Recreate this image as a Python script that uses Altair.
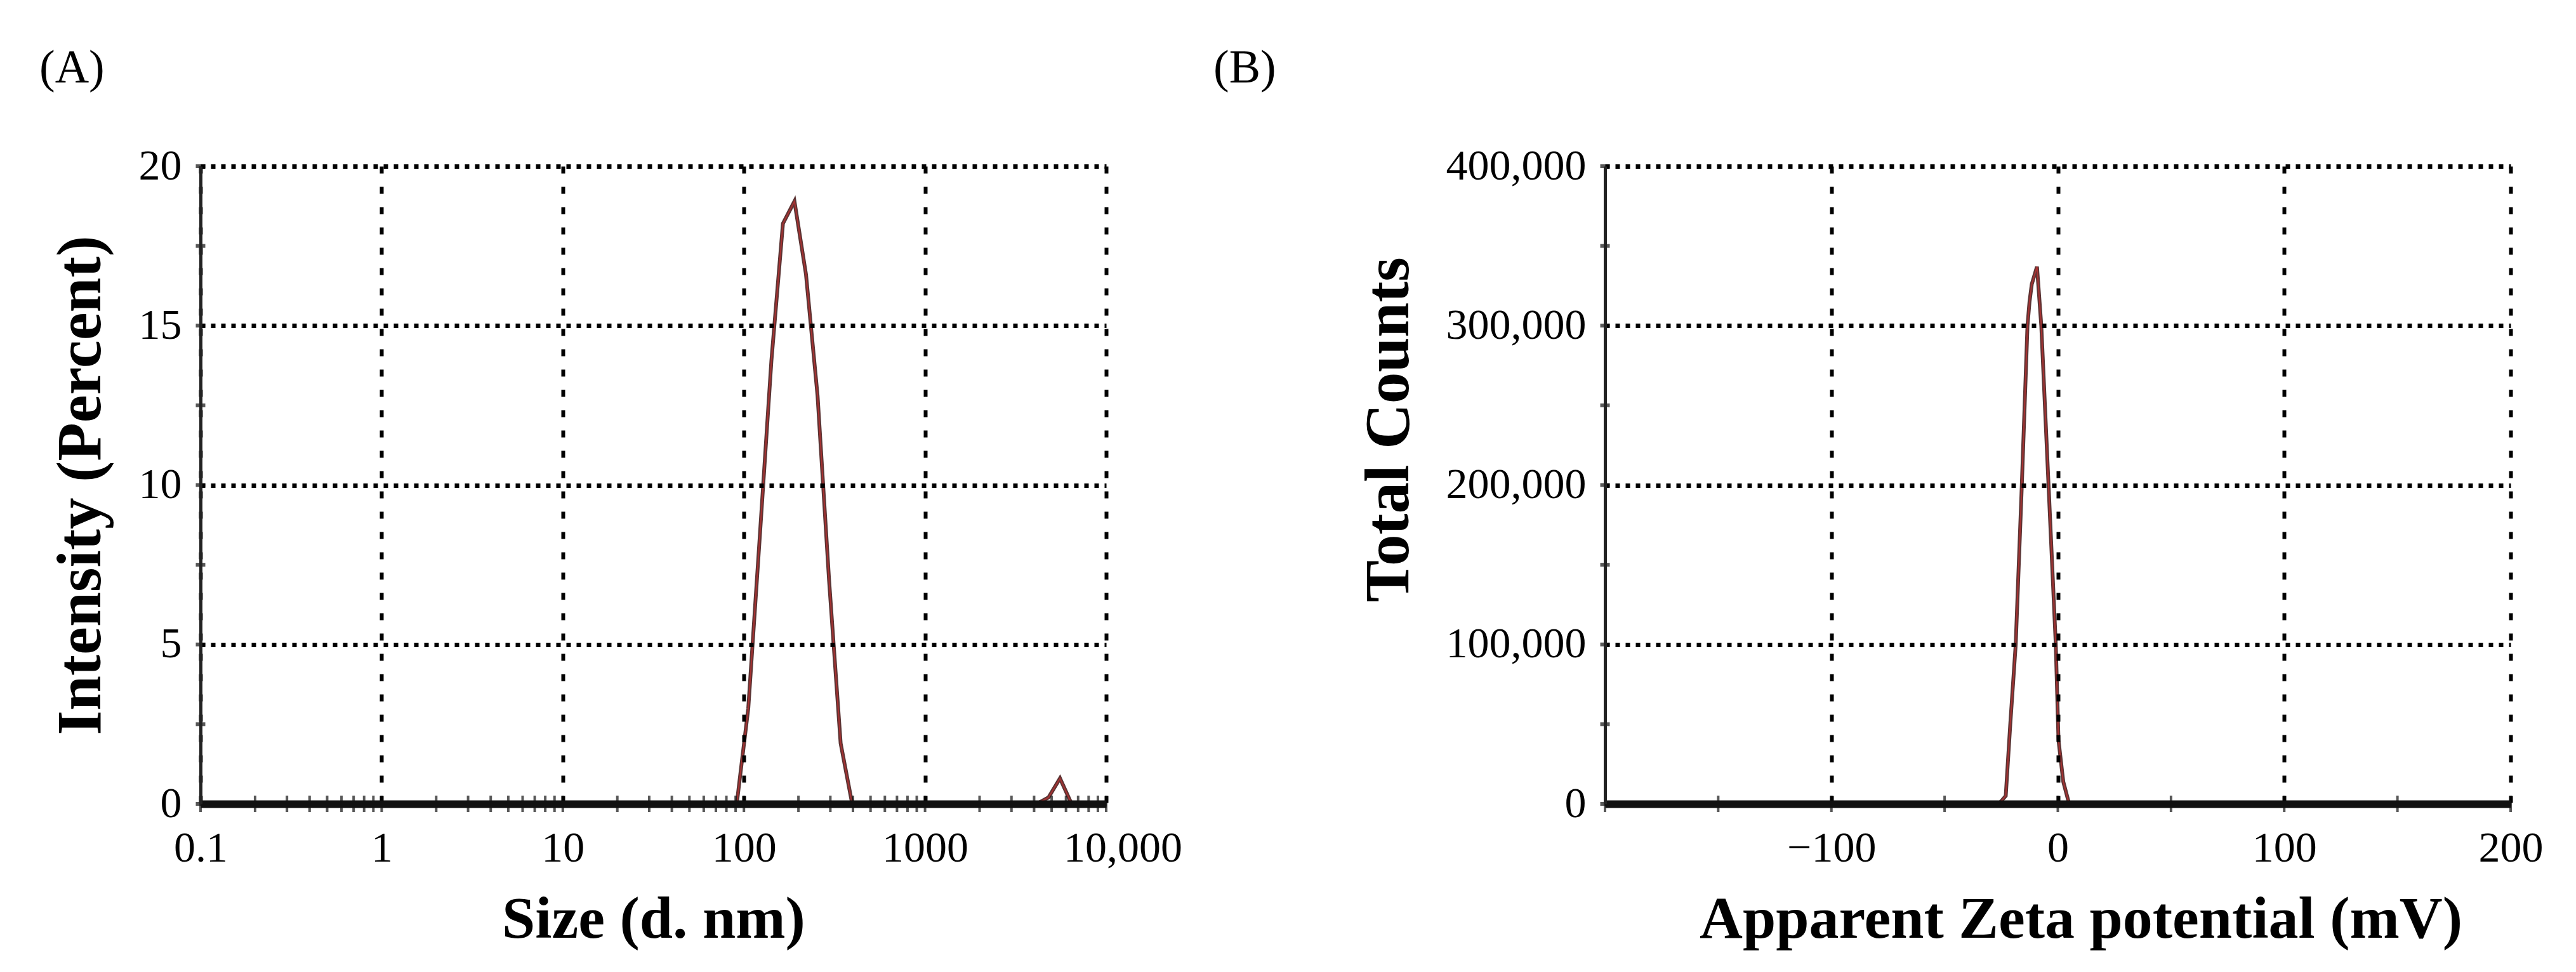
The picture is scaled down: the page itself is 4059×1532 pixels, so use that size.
import altair as alt
import pandas as pd

FONT = "Liberation Serif"

# ---------------- Panel A: size distribution ----------------
size_nm = [0.4, 91.28, 105.7, 122.4, 141.8, 164.2, 190.1, 220.2, 255.0, 295.3,
           342.0, 396.1, 4145, 4801, 5560, 6439, 10000]
intensity = [0, 0, 3.0, 8.4, 13.9, 18.2, 18.9, 16.6, 12.8, 7.0,
             1.9, 0, 0, 0.2, 0.8, 0, 0]

size_major = [0.1, 1, 10, 100, 1000, 10000]
size_minor = [0.2, 0.3, 0.4, 0.5, 0.6, 0.7, 0.8, 0.9,
              2, 3, 4, 5, 6, 7, 8, 9,
              20, 30, 40, 50, 60, 70, 80, 90,
              200, 300, 400, 500, 600, 700, 800, 900,
              2000, 3000, 4000, 5000, 6000, 7000, 8000, 9000]
intensity_major = [0, 5, 10, 15, 20]
intensity_minor = [2.5, 7.5, 12.5, 17.5]

# ---------------- Panel B: zeta potential ----------------
zeta_mv = [-150, -26, -23, -21, -18.6, -15.9, -13.4, -12.5, -11.5, -9.2,
           -7.3, -4.1, -0.9, 0.3, 2.4, 5.0, 150]
total_counts = [0, 0, 5000, 50000, 100000, 200000, 300000, 315000, 326000, 337000,
                300000, 200000, 100000, 40000, 14000, 0, 0]

zeta_major = [-100, 0, 100, 200]
zeta_ticks = [-200, -150, -100, -50, 0, 50, 100, 150, 200]
counts_major = [0, 100000, 200000, 300000, 400000]
counts_ticks = [0, 50000, 100000, 150000, 200000, 250000, 300000, 350000, 400000]

W, H = 1427, 1005
LINE_DARK = "#3e1010"
LINE_RED = "#a83232"


def panel(xs, ys, xscale, yscale, xaxis, yaxis, xtick_vals, ytick_vals, xmin, label, label_dx):
    line_df = pd.DataFrame({"x": xs, "y": ys})
    xt_df = pd.DataFrame({"x": xtick_vals, "y": [0] * len(xtick_vals)})
    yt_df = pd.DataFrame({"x": [xmin] * len(ytick_vals), "y": ytick_vals})

    X = alt.X("x:Q", scale=xscale, axis=xaxis)
    Y = alt.Y("y:Q", scale=yscale, axis=yaxis)

    outline = alt.Chart(line_df).mark_line(color=LINE_DARK, strokeWidth=6, opacity=0.85).encode(x=X, y=Y)
    core = alt.Chart(line_df).mark_line(color=LINE_RED, strokeWidth=2).encode(x=X, y=Y)
    xt = alt.Chart(xt_df).mark_tick(orient="vertical", size=26, thickness=4, color="#111").encode(x=X, y=Y)
    yt = alt.Chart(yt_df).mark_tick(orient="horizontal", size=15, thickness=6, color="#111").encode(x=X, y=Y)

    return alt.layer(outline, core, xt, yt).properties(
        width=W, height=H,
        title=alt.TitleParams(label, anchor="start", frame="group", dx=label_dx, offset=82,
                              font=FONT, fontSize=74, fontWeight="normal", color="black"),
    )


def xaxis_common(**kw):
    base = dict(grid=True, gridColor="black", gridDash=[11, 21], gridWidth=6, gridOpacity=1,
                ticks=False, domainColor="#111", domainWidth=12, labelFont=FONT, labelFontSize=68,
                labelColor="black", labelPadding=36, labelFlush=False, labelOverlap=False,
                labelLimit=0,
                titleFont=FONT, titleFontSize=94, titleFontWeight="bold", titleColor="black",
                titlePadding=32, zindex=1)
    base.update(kw)
    return alt.Axis(**base)


def yaxis_common(**kw):
    base = dict(grid=True, gridColor="black", gridDash=[7, 9], gridWidth=7, gridOpacity=1,
                ticks=False, domainColor="#222", domainWidth=5, labelFont=FONT, labelFontSize=68,
                labelColor="black", labelPadding=30, labelOverlap=False, labelLimit=0,
                titleFont=FONT, titleFontSize=99, titleFontWeight="bold", titleColor="black",
                zindex=1)
    base.update(kw)
    return alt.Axis(**base)


chartA = panel(
    size_nm, intensity,
    alt.Scale(type="log", domain=[0.1, 10000], nice=False),
    alt.Scale(domain=[0, 20], nice=False),
    xaxis_common(values=size_major, format="~g", title="Size (d. nm)",
                 labelExpr="datum.value >= 10000 ? format(datum.value, ',') : datum.label",
                 labelOffset={"condition": {"test": "datum.value >= 10000", "value": 26}, "value": 0}),
    yaxis_common(values=intensity_major, title="Intensity (Percent)", titlePadding=40),
    size_major + size_minor, intensity_major + intensity_minor, 0.1, "(A)", -254,
)

chartB = panel(
    zeta_mv, total_counts,
    alt.Scale(domain=[-200, 200], nice=False),
    alt.Scale(domain=[0, 400000], nice=False),
    xaxis_common(values=zeta_major, format="d", title="Apparent Zeta potential (mV)",
                 titleX=W / 2 + 36),
    yaxis_common(values=counts_major, format=",d", title="Total Counts", titlePadding=90,
                 titleY=H / 2 - 88),
    zeta_ticks, counts_ticks, -200, "(B)", -617,
)

chart = alt.hconcat(chartA, chartB, spacing=786, bounds="flush").configure_view(
    stroke=None
).properties(
    padding={"left": 54, "top": 63, "right": 5, "bottom": 5},
    background="white",
)

chart.save("out.html", embed_options={"renderer": "svg", "actions": False})
